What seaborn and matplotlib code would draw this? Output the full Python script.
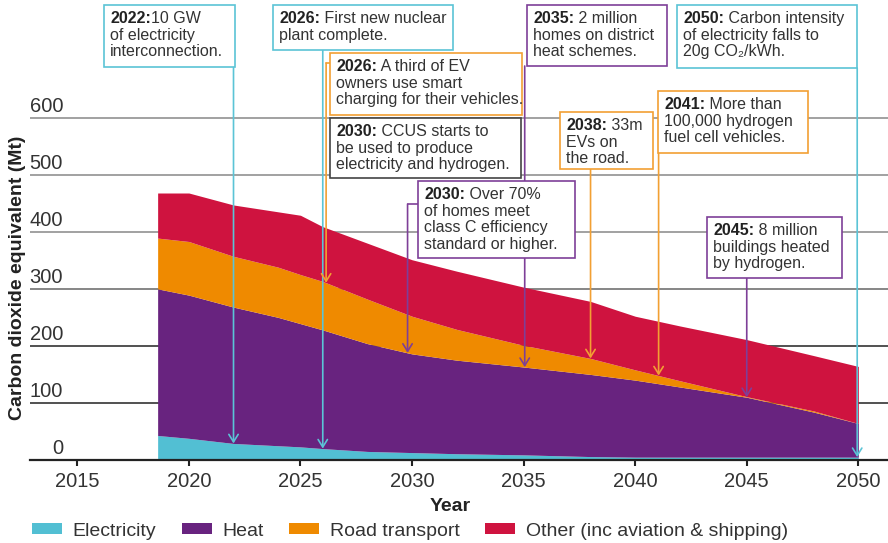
import numpy as np
import pandas as pd
import matplotlib
matplotlib.use("Agg")
from matplotlib import pyplot as plt
from matplotlib.patches import Rectangle, Patch
from matplotlib.text import Annotation
import seaborn as sns

# emissions by sector (Mt CO2e)
years = [2018.6, 2020, 2022, 2024, 2025, 2026, 2028, 2030, 2032, 2035, 2038, 2040, 2042, 2045, 2048, 2050]
electricity = [43, 38, 29, 25, 23, 20, 15, 13, 11, 9, 6, 5, 5, 5, 5, 5]
heat = [257, 251, 239, 225, 216, 208, 189, 173, 164, 154, 144, 135, 123, 105, 79, 59]
road = [89, 94, 89, 88, 86, 85, 78, 66, 54, 38, 28, 18, 11, 1, 2, 0]
other = [79, 85, 90, 97, 104, 96, 98, 99, 102, 102, 100, 94, 96, 100, 97, 100]

sectors = ["Electricity", "Heat", "Road transport", "Other (inc aviation & shipping)"]
colors = ["#52BFD3", "#68237F", "#EF8A00", "#CF133F"]
x_ticks = [2015, 2020, 2025, 2030, 2035, 2040, 2045, 2050]
y_ticks = [0, 100, 200, 300, 400, 500, 600]

# milestones: (arrow year, stack level it points at, bold part, rest of first line, other lines, colour, box px)
milestones = [
    (2022.0, "Electricity", "2022:", "10 GW", "of electricity\ninterconnection.", "#5BC4D6", (104, 5, 235, 67)),
    (2026.0, "Electricity", "2026:", " First new nuclear", "plant complete.", "#5BC4D6", (273, 5, 453, 50)),
    (2026.15, "Road transport", "2026:", " A third of EV", "owners use smart\ncharging for their vehicles.", "#F2A033", (330, 53, 522, 115)),
    (None, None, "2030:", " CCUS starts to", "be used to produce\nelectricity and hydrogen.", "#444444", (330, 118, 521, 178)),
    (2029.8, "Heat", "2030:", " Over 70%", "of homes meet\nclass C efficiency\nstandard or higher.", "#7E3F98", (418, 181, 575, 258)),
    (2035.05, "Heat", "2035:", " 2 million", "homes on district\nheat schemes.", "#7E3F98", (527, 5, 667, 66)),
    (2038.0, "Road transport", "2038:", " 33m", "EVs on\nthe road.", "#F2A033", (560, 112, 653, 169)),
    (2041.05, "Road transport", "2041:", " More than", "100,000 hydrogen\nfuel cell vehicles.", "#F2A033", (658, 91, 808, 153)),
    (2045.0, "Heat", "2045:", " 8 million", "buildings heated\nby hydrogen.", "#7E3F98", (707, 217, 842, 278)),
    (2049.95, "Electricity", "2050:", " Carbon intensity", "of electricity falls to\n20g CO\u2082/kWh.", "#5BC4D6", (677, 5, 857, 68)),
]
side_stub = {"2026: A third": 63, "2030: Over": 204}

df = pd.DataFrame({"year": years, "Electricity": electricity, "Heat": heat,
                   "Road transport": road, "Other (inc aviation & shipping)": other})
stack_top = df[sectors].cumsum(axis=1)

sns.set_theme(style="white")
plt.rcParams["font.family"] = ["Liberation Sans", "DejaVu Sans"]
text_col = "#333333"

W, H = 888, 543
fig = plt.figure(figsize=(W / 100, H / 100), dpi=100)
ax = fig.add_axes([30 / W, 1 - 460 / H, 858 / W, 460 / H])

ax.stackplot(df["year"], [df[s] for s in sectors], colors=colors, linewidth=0, zorder=2)

ax.set_xlim(2012.88, 2051.33)
ax.set_ylim(0, 806.3)
ax.set_xticks(x_ticks)
ax.set_xticklabels([str(t) for t in x_ticks], fontsize=14.5, color=text_col)
ax.tick_params(axis="x", direction="out", length=4.5, width=1.5, color="#222222", pad=4, bottom=True)
ax.set_yticks(y_ticks[1:])
ax.set_yticklabels([])
ax.tick_params(axis="y", length=0)
ax.yaxis.grid(True, zorder=0)
for val, gl in zip(y_ticks[1:], ax.get_ygridlines()):
    gl.set_color("#222222" if val <= 200 else ("#666666" if val == 300 else "#888888"))
    gl.set_linewidth(1.1)
ax.set_axisbelow(True)
sns.despine(ax=ax, left=True, top=True, right=True)
ax.spines["bottom"].set_color("#222222")
ax.spines["bottom"].set_linewidth(1.6)

for val in y_ticks:
    ax.text(0.0385, val + 3, str(val), transform=ax.get_yaxis_transform(),
            ha="right", va="bottom", fontsize=14.5, color=text_col)

ax.set_xlabel("Year", fontsize=14, fontweight="bold", color="#222222")
ax.xaxis.set_label_coords(0.49, -0.102)
ax.xaxis.label.set_va("center")
ax.set_ylabel("Carbon dioxide equivalent (Mt)", fontsize=14, fontweight="bold", color="#222222")
ax.yaxis.set_label_coords(-0.014, 0.396)
ax.yaxis.label.set_va("center")


def fig_xy(px, py):
    return px / W, 1 - py / H


def data_y(py):
    return ax.transData.inverted().transform((0, H - py))[1]


def data_x(px):
    return ax.transData.inverted().transform((px, 0))[0]


for yr, level, bold, first, rest, col, (x0, y0, x1, y1) in milestones:
    fx, fy = fig_xy(x0, y1)
    fig.patches.append(Rectangle((fx, fy), (x1 - x0) / W, (y1 - y0) / H, transform=fig.transFigure,
                                 facecolor="white", edgecolor=col, linewidth=1.2, zorder=5))
    tx, ty = fig_xy(x0 + 6, y0 + 6)
    tb = fig.text(tx, ty, bold, fontsize=11.5, fontweight="bold", color="#222222",
                  ha="left", va="top", zorder=6)
    fig.add_artist(Annotation(first, xy=(1, 0), xycoords=tb, ha="left", va="bottom",
                              fontsize=11.5, color=text_col, zorder=6))
    fig.add_artist(Annotation(rest, xy=(0, 0), xycoords=tb, xytext=(0, -2),
                              textcoords="offset pixels", ha="left", va="top",
                              fontsize=11.5, color=text_col, linespacing=1.12, zorder=6))
    if yr is None:
        continue
    target = np.interp(yr, df["year"], stack_top[level])
    key = [k for k in side_stub if (bold + first).startswith(k)]
    if key:
        sy = data_y(side_stub[key[0]])
        ax.plot([data_x(x0), yr], [sy, sy], color=col, lw=1.2, clip_on=False, zorder=4)
        start = sy
    else:
        start = data_y(y1)
    ax.annotate("", xy=(yr, target), xytext=(yr, start), annotation_clip=False,
                arrowprops=dict(arrowstyle="->,head_length=0.45,head_width=0.28", color=col,
                                lw=1.2, shrinkA=0, shrinkB=0), zorder=4)

handles = [Patch(facecolor=c, edgecolor="none") for c in colors]
leg = fig.legend(handles, sectors, loc="center left", bbox_to_anchor=(32 / W, 1 - 531 / H),
                 ncol=4, frameon=False, fontsize=14, handlelength=1.55, handleheight=0.45,
                 handletextpad=0.55, columnspacing=1.3, borderaxespad=0, borderpad=0)
for t in leg.get_texts():
    t.set_color(text_col)

fig.savefig("out.png", dpi=100)
